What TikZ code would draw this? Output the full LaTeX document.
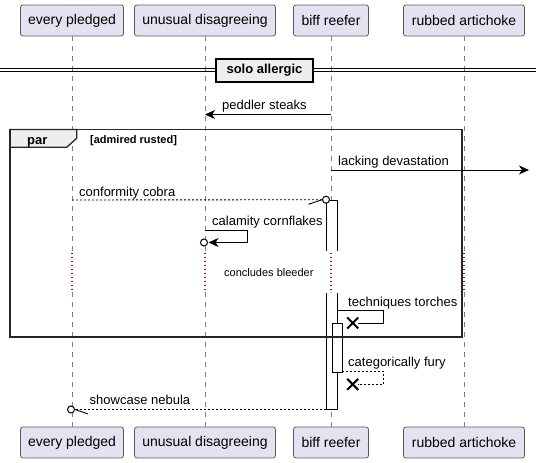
\documentclass[tikz,border=0pt]{standalone}
\usepackage{fontspec}
\setmainfont{Liberation Sans}
\usetikzlibrary{arrows.meta}
\definecolor{partfill}{HTML}{E2E2F0}
\definecolor{partdraw}{HTML}{5A5A5A}
\definecolor{delayred}{HTML}{A80036}
\definecolor{grpfill}{HTML}{EEEEEE}
\definecolor{lifegray}{HTML}{808080}
\begin{document}
\begin{tikzpicture}[x=1pt,y=-1pt,
  part/.style={draw=partdraw, fill=partfill, rounded corners=2.5pt, line width=0.8pt, minimum height=31pt, inner sep=0pt, font=\fontsize{14}{16}\selectfont},
  lifeline/.style={draw=lifegray, line width=0.8pt, dash pattern=on 5pt off 5pt},
  delayline/.style={draw=delayred, line width=1.3pt, dash pattern=on 1.5pt off 2.5pt},
  barline/.style={draw=black, fill=white, line width=0.9pt},
  msg/.style={draw=black, line width=0.9pt},
  dmsg/.style={msg, dash pattern=on 2pt off 2pt},
  head/.style={-{Stealth[length=10pt,width=9pt,inset=3pt]}},
  lbl/.style={font=\fontsize{13}{15}\selectfont, anchor=base west, inner sep=0pt},
  endcircle/.style={draw=black, line width=1pt, circle, minimum size=7pt, inner sep=0pt, fill=white},
  killx/.style={draw=black, line width=2pt},
  grpline/.style={draw=black!85, line width=1.6pt},
]
\useasboundingbox (0,0) rectangle (536,463);

% participants
\node[part, minimum width=103pt] (ep) at (72,20.5) {every pledged};
\node[part, minimum width=141pt] (ud) at (205,20.5) {unusual disagreeing};
\node[part, minimum width=75pt] (bf) at (331,20.5) {biff reefer};
\node[part, minimum width=121pt] (ra) at (464,20.5) {rubbed artichoke};
\node[part, minimum width=103pt] (ep2) at (72,442.5) {every pledged};
\node[part, minimum width=141pt] (ud2) at (205,442.5) {unusual disagreeing};
\node[part, minimum width=75pt] (bf2) at (331,442.5) {biff reefer};
\node[part, minimum width=121pt] (ra2) at (464,442.5) {rubbed artichoke};

% lifelines with delay
\coordinate (dA) at (0,252.5);
\coordinate (dB) at (0,292);
\foreach \p in {ep,ud,bf,ra}{
  \draw[lifeline] (\p.south) -- (\p.south |- dA);
  \draw[delayline] (\p.south |- dA) -- (\p.south |- dB);
  \draw[lifeline] (\p.south |- dB) -- (\p2.north);
}

% separator
\draw[black, line width=0.9pt] (0,68.5) -- (536,68.5) (0,71.5) -- (536,71.5);
\node[draw=black, line width=1.5pt, fill=grpfill, minimum width=97pt, minimum height=23pt, inner sep=0pt, font=\bfseries\fontsize{13}{15}\selectfont] (sep) at (264.5,70.5) {solo allergic};

% message 1
\coordinate (p1) at (331,114.5);
\coordinate (p1e) at (205,114.5);
\draw[msg,head] (p1) -- (p1e);
\node[lbl] (t1) at (222,109.5) {peddler steaks};

% activation bars
\fill[white] (326,200) rectangle (337,251);
\draw[barline, fill=none] (326,251) -- (326,200) -- (337,200) -- (337,251);
\fill[white] (326,293) rectangle (337,409.5);
\draw[barline, fill=none] (326,293) -- (326,409.5) -- (337,409.5) -- (337,293);
\node[draw=black, fill=white, line width=0.9pt, minimum width=10pt, minimum height=49pt, inner sep=0pt, anchor=north] (bar3) at (337,323) {};

% par group
\filldraw[fill=grpfill, draw=black!85, line width=1.3pt] (9.7,129.5) -- (76.7,129.5) -- (76.7,138.3) -- (66.7,147.3) -- (9.7,147.3) -- cycle;
\draw[grpline] (9.7,129.5) rectangle (462,336.8);
\node[font=\bfseries\fontsize{13}{15}\selectfont, anchor=base west, inner sep=0pt] (par) at (27,144.3) {par};
\node[font=\bfseries\fontsize{11}{13}\selectfont, anchor=base west, inner sep=0pt] (guard) at (90,143.3) {[admired rusted]};

% lacking devastation
\coordinate (l1) at (331,170);
\coordinate (l1e) at (529,170);
\draw[msg,head] (l1) -- (l1e);
\node[lbl] (t2) at (338,165) {lacking devastation};

% conformity cobra
\node[endcircle] (c1) at (326,199.7) {};
\coordinate (c1s) at (72,200);
\draw[dmsg] (c1s) -- (c1.west);
\draw[msg] (c1.west) -- ++(-13.5,4.6);
\node[lbl] (t3) at (79,196) {conformity cobra};

% calamity cornflakes
\coordinate (k0) at (205,230.7);
\node[endcircle] (k1) at (204,242.5) {};
\coordinate (k1a) at (208.5,242.5);
\draw[msg,head] (k0) -- ++(42.7,0) |- (k1a);
\node[lbl] (t4) at (212,225.7) {calamity cornflakes};

% delay text
\node[font=\fontsize{11}{13}\selectfont, anchor=base west, inner sep=0pt] (dl) at (224,276) {concludes bleeder};

% techniques torches
\coordinate (q0) at (337,310.7);
\coordinate (q1) at (358,323);
\draw[msg] (q0) -- ++(46.7,0) |- (q1);
\node[inner sep=0pt] (x1) at (352.7,323) {};
\draw[killx] ([shift={(-5.5,-5.5)}]x1.center) -- ([shift={(5.5,5.5)}]x1.center)
             ([shift={(-5.5,5.5)}]x1.center) -- ([shift={(5.5,-5.5)}]x1.center);
\node[lbl] (t5) at (348,306) {techniques torches};

% categorically fury
\coordinate (r0) at (342,371.3);
\coordinate (r1) at (358,384.3);
\draw[dmsg] (r0) -- ++(41.7,0) |- (r1);
\node[inner sep=0pt] (x2) at (352.7,384.3) {};
\draw[killx] ([shift={(-5.5,-5.5)}]x2.center) -- ([shift={(5.5,5.5)}]x2.center)
             ([shift={(-5.5,5.5)}]x2.center) -- ([shift={(5.5,-5.5)}]x2.center);
\node[lbl] (t6) at (348,366.3) {categorically fury};

% showcase nebula
\node[endcircle] (s1) at (71,409.5) {};
\coordinate (s0) at (326,409.5);
\draw[dmsg] (s0) -- (s1.east);
\draw[msg] (s1.east) -- ++(13,4.5);
\node[lbl] (t7) at (89.5,404.5) {showcase nebula};
\end{tikzpicture}
\end{document}
